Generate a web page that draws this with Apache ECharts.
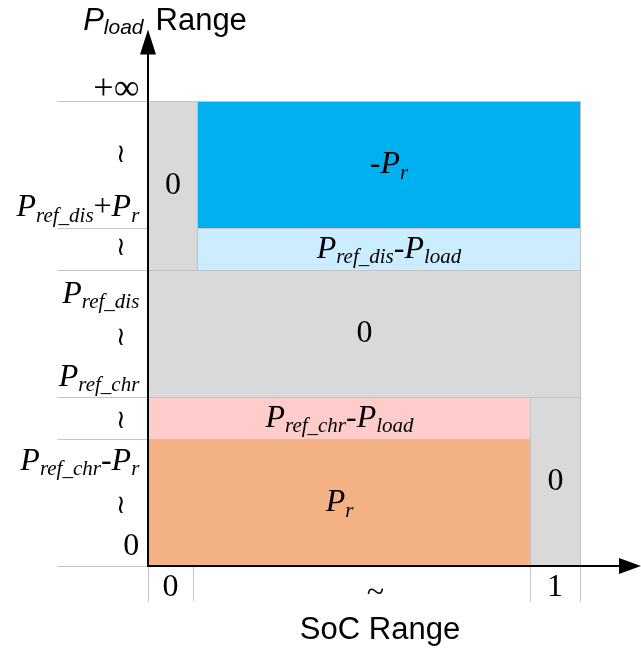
<!DOCTYPE html>
<html>
<head>
<meta charset="utf-8">
<script src="https://cdn.jsdelivr.net/npm/echarts@6/dist/echarts.min.js"></script>
<style>
html,body{margin:0;padding:0;background:#fff;}
#chart{width:641px;height:653px;}
</style>
</head>
<body>
<div id="chart"></div>
<script>
// ---------------- data (abstract diagram units) ----------------
// band boundaries on the P_load axis
const loadEdges = [0, 3, 4, 7, 8, 11];
// SoC column boundaries that get a guide line under the axis
const socTickEdges = [0, 9.3, 79.3, 89.6];

// cells of the piece-wise map
const cellSocFrom  = [0,    10.1, 10.1, 0,    0,    0,    79.3];
const cellSocTo    = [10.1, 89.6, 89.6, 89.6, 79.3, 79.3, 89.6];
const cellLoadFrom = [7,    8,    7,    4,    3,    0,    0];
const cellLoadTo   = [11,   11,   8,    7,    4,    3,    4];
const cellKind     = ['zero', 'discharge', 'dischargeLimit', 'zero', 'chargeLimit', 'charge', 'zero'];
const cellLabels   = [
  '{n|0}',
  '{n|-}{i|P}{s|r}',
  '{i|P}{s|ref_dis}{n|-}{i|P}{s|load}',
  '{n|0}',
  '{i|P}{s|ref_chr}{n|-}{i|P}{s|load}',
  '{i|P}{s|r}',
  '{n|0}'
];

// P_load tick labels (left of the axis)
const yTickText = [
  '{b|+∞}',
  '{i|P}{s|ref_dis}{n|+}{i|P}{s|r}',
  '{i|P}{s|ref_dis}',
  '{i|P}{s|ref_chr}',
  '{i|P}{s|ref_chr}{n|-}{i|P}{s|r}',
  '{n|0}'
];
const yTickValue = [11.28, 8.47, 6.43, 4.47, 2.48, 0.47];
// "≀" range marks between tick labels
const yWaveValue = [9.72, 7.52, 5.39, 3.42, 1.42];

// SoC tick labels (below the axis)
const xTickText = ['{n|0}', '{t|~}', '{n|1}'];
const xTickValue = [4.65, 47.2, 84.45];

// ---------------- styling ----------------
const SERIF = '"Liberation Serif", "Times New Roman", serif';
const SANS = '"Liberation Sans", Arial, sans-serif';
const palette = {
  zero: '#D9D9D9',
  discharge: '#00B0F0',
  dischargeLimit: '#CCECFF',
  chargeLimit: '#FFCCCC',
  charge: '#F4B183'
};
const zrRich = {
  i: {fontFamily: SERIF, fontStyle: 'italic', fontSize: 32, fill: '#000'},
  s: {fontFamily: SERIF, fontStyle: 'italic', fontSize: 21, fill: '#000', padding: [16, 0, 0, 0]},
  n: {fontFamily: SERIF, fontSize: 32, fill: '#000'},
  b: {fontFamily: SERIF, fontSize: 36, fill: '#000'},
  t: {fontFamily: SERIF, fontSize: 32, fill: '#000', padding: [12, 0, 0, 0]},
  w: {fontFamily: '"DejaVu Serif", serif', fontSize: 26, fill: '#000'}
};
const GUIDE_LEFT = -18.8;   // how far the band guides reach left of the axis
const GUIDE_BOTTOM = -0.83; // how far the column guides reach below the axis
const Y_LABEL_X = -1.8;
const WAVE_X = -5.6;
const X_LABEL_Y = -0.52;
const GUIDE_COLOR = '#c3c3c3';

const crisp = v => Math.round(v) + 0.5;

const chart = echarts.init(document.getElementById('chart'), null, {renderer: 'canvas'});

const guideData = loadEdges.map(v => [GUIDE_LEFT, 0, v, v])
  .concat(socTickEdges.map(v => [v, v, GUIDE_BOTTOM, 0]));

chart.setOption({
  animation: false,
  backgroundColor: '#fff',
  grid: {left: 148, right: 11, top: 42, bottom: 87, containLabel: false},
  xAxis: {
    type: 'value', min: 0, max: 100, z: 10,
    axisLine: {show: true, onZero: false, lineStyle: {color: '#000', width: 2},
      symbol: ['none', 'triangle'], symbolSize: [16, 22]},
    axisTick: {show: false}, axisLabel: {show: false}, splitLine: {show: false},
    name: 'SoC Range', nameLocation: 'middle', nameGap: 49,
    nameTextStyle: {fontFamily: SANS, fontSize: 31, color: '#000', padding: [0, 18, 0, 0]}
  },
  yAxis: {
    type: 'value', min: 0, max: 12.4, z: 10,
    axisLine: {show: true, onZero: false, lineStyle: {color: '#000', width: 2},
      symbol: ['none', 'triangle'], symbolSize: [16, 25]},
    axisTick: {show: false}, axisLabel: {show: false}, splitLine: {show: false},
    name: '{i|P}{s|load}{g| }{r|Range}', nameLocation: 'end', nameGap: 3,
    nameTextStyle: {
      padding: [0, 0, 0, 34],
      rich: {
        i: {fontFamily: SANS, fontStyle: 'italic', fontSize: 31, color: '#000'},
        s: {fontFamily: SANS, fontStyle: 'italic', fontSize: 21, color: '#000', padding: [14, 0, 0, 0]},
        g: {fontFamily: SANS, fontSize: 31, color: '#000', width: 12},
        r: {fontFamily: SANS, fontSize: 31, color: '#000'}
      }
    }
  },
  series: [
    {
      type: 'custom', name: 'cells', coordinateSystem: 'cartesian2d', clip: false, silent: true, z: 2,
      data: cellKind.map((k, i) => [cellSocFrom[i], cellSocTo[i], cellLoadFrom[i], cellLoadTo[i]]),
      encode: {x: [0, 1], y: [2, 3]},
      renderItem: function (params, api) {
        const i = params.dataIndex;
        const a = api.coord([api.value(0), api.value(3)]);
        const b = api.coord([api.value(1), api.value(2)]);
        const x0 = crisp(a[0]), y0 = crisp(a[1]), x1 = crisp(b[0]), y1 = crisp(b[1]);
        return {
          type: 'rect',
          shape: {x: x0, y: y0, width: x1 - x0, height: y1 - y0},
          style: {fill: palette[cellKind[i]], stroke: GUIDE_COLOR, lineWidth: 1},
          textContent: {
            style: {text: cellLabels[i], rich: zrRich, fill: '#000', align: 'center', verticalAlign: 'middle'}
          },
          textConfig: {position: 'inside', insideFill: '#000'}
        };
      }
    },
    {
      type: 'custom', name: 'guides', coordinateSystem: 'cartesian2d', clip: false, silent: true, z: 1,
      data: guideData,
      encode: {x: [0, 1], y: [2, 3]},
      renderItem: function (params, api) {
        const a = api.coord([api.value(0), api.value(2)]);
        const b = api.coord([api.value(1), api.value(3)]);
        return {
          type: 'line',
          shape: {x1: crisp(a[0]), y1: crisp(a[1]), x2: crisp(b[0]), y2: crisp(b[1])},
          style: {stroke: GUIDE_COLOR, lineWidth: 1}
        };
      }
    },
    {
      type: 'custom', name: 'loadTicks', coordinateSystem: 'cartesian2d', clip: false, silent: true, z: 5,
      data: yTickValue.map(v => [Y_LABEL_X, v]),
      encode: {x: 0, y: 1},
      renderItem: function (params, api) {
        const p = api.coord([api.value(0), api.value(1)]);
        return {
          type: 'text', x: p[0], y: p[1],
          style: {text: yTickText[params.dataIndex], rich: zrRich, fill: '#000', align: 'right', verticalAlign: 'middle'}
        };
      }
    },
    {
      type: 'custom', name: 'loadWaves', coordinateSystem: 'cartesian2d', clip: false, silent: true, z: 5,
      data: yWaveValue.map(v => [WAVE_X, v]),
      encode: {x: 0, y: 1},
      renderItem: function (params, api) {
        const p = api.coord([api.value(0), api.value(1)]);
        return {
          type: 'text', x: p[0], y: p[1],
          style: {text: '{w|≀}', rich: zrRich, fill: '#000', align: 'center', verticalAlign: 'middle'}
        };
      }
    },
    {
      type: 'custom', name: 'socTicks', coordinateSystem: 'cartesian2d', clip: false, silent: true, z: 5,
      data: xTickValue.map(v => [v, X_LABEL_Y]),
      encode: {x: 0, y: 1},
      renderItem: function (params, api) {
        const p = api.coord([api.value(0), api.value(1)]);
        return {
          type: 'text', x: p[0], y: p[1],
          style: {text: xTickText[params.dataIndex], rich: zrRich, fill: '#000', align: 'center', verticalAlign: 'middle'}
        };
      }
    }
  ]
});
</script>
</body>
</html>
